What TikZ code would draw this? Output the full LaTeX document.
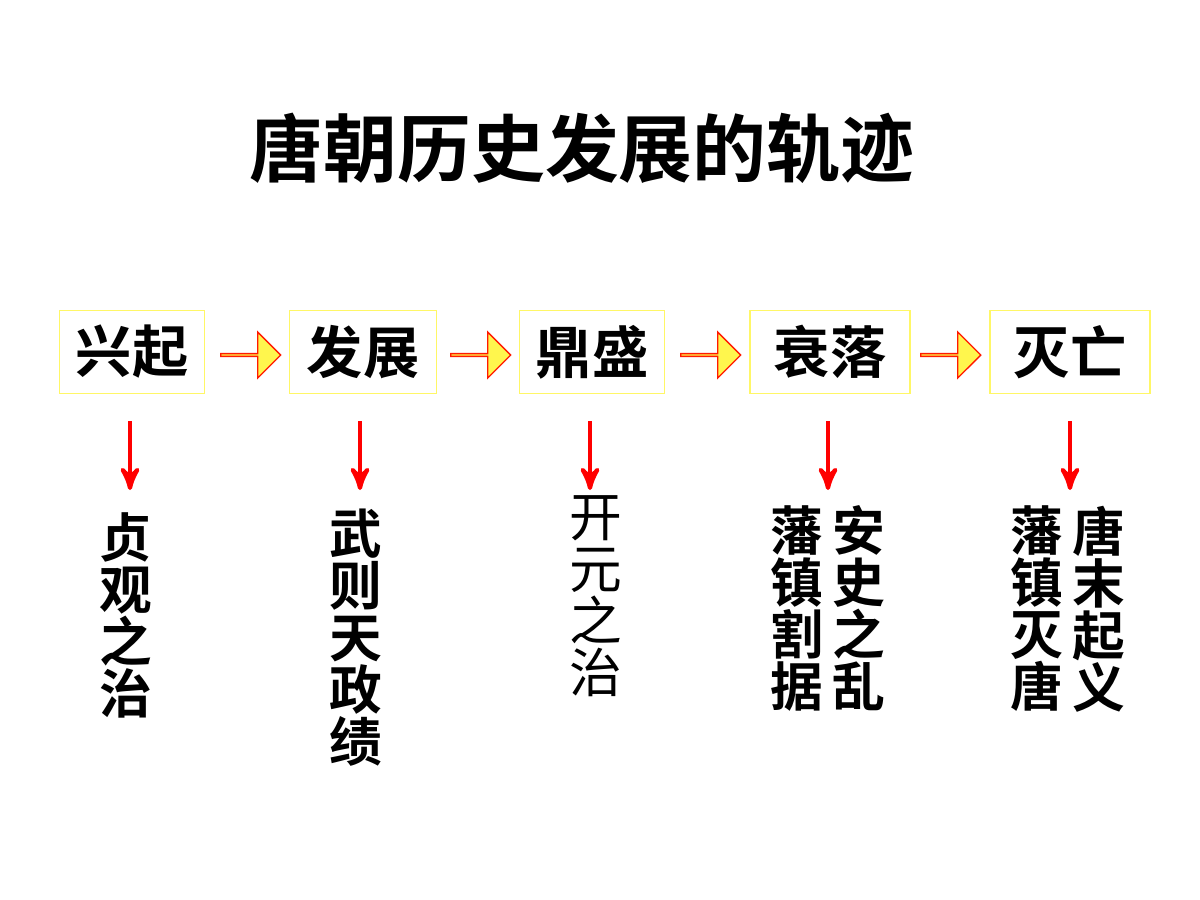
\documentclass[tikz,border=0pt]{standalone}
\usepackage{fontspec}
\newfontfamily\cjk{Noto Sans CJK SC}
\newfontfamily\cjkb{Noto Sans CJK SC}[UprightFont=*-Bold]
\usetikzlibrary{arrows,shapes.arrows,positioning}

\begin{document}
\begin{tikzpicture}
[x=0.01cm,y=-0.01cm,>=stealth',
  stage/.style={draw=yellow!60,thin,fill=white,minimum height=0.83cm,font=\cjkb\fontsize{16}{18}\selectfont,inner sep=2pt},
  fat arrow/.style={single arrow,draw=red!80!orange,fill=yellow!70,thin,minimum height=0.6cm,minimum width=0.46cm,single arrow head extend=3pt,inner sep=0pt},
  vtext/.style={anchor=north,align=center,font=\cjkb\fontsize{15}{14.8}\selectfont,inner sep=0pt}]

  \useasboundingbox (0,0) rectangle (1200,900);

  \node[font=\cjkb\fontsize{21}{24}\selectfont] (title) at (582,148) {唐朝历史发展的轨迹};

  \node[stage,minimum width=1.45cm] (xingqi) at (132,352) {兴起};
  \node[stage,minimum width=1.47cm] (fazhan) at (363,352) {发展};
  \node[stage,minimum width=1.45cm] (dingsheng) at (592,352) {鼎盛};
  \node[stage,minimum width=1.60cm] (shuailuo) at (830,352) {衰落};
  \node[stage,minimum width=1.60cm] (miewang) at (1070,352) {灭亡};

  \node[fat arrow] (a1) at (250,355) {};
  \node[fat arrow] (a2) at (480,355) {};
  \node[fat arrow] (a3) at (710,355) {};
  \node[fat arrow] (a4) at (950,355) {};

  \node[vtext] (zhenguan) at (126,512) {贞\\观\\之\\治};
  \node[vtext] (wuzetian) at (356,508) {武\\则\\天\\政\\绩};
  \node[vtext,font=\cjk\fontsize{15}{14.8}\selectfont] (kaiyuan) at (596,495) {开\\元\\之\\治};
  \node[vtext] (fanzhen) at (797,505) {藩\\镇\\割\\据};
  \node[vtext] (anshi) at (859,505) {安\\史\\之\\乱};
  \node[vtext] (miewtang) at (1037,505) {藩\\镇\\灭\\唐};
  \node[vtext] (tangmo) at (1099,505) {唐\\末\\起\\义};

  \coordinate (d1) at (130,490);
  \coordinate (d2) at (360,490);
  \coordinate (d3) at (590,490);
  \coordinate (d4) at (828,490);
  \coordinate (d5) at (1070,490);

  \foreach \from/\to in {xingqi/d1,fazhan/d2,dingsheng/d3,shuailuo/d4,miewang/d5}
    \draw[->,red,very thick,shorten <=0.27cm] (\from.south -| \to) -- (\to);

\end{tikzpicture}
\end{document}
